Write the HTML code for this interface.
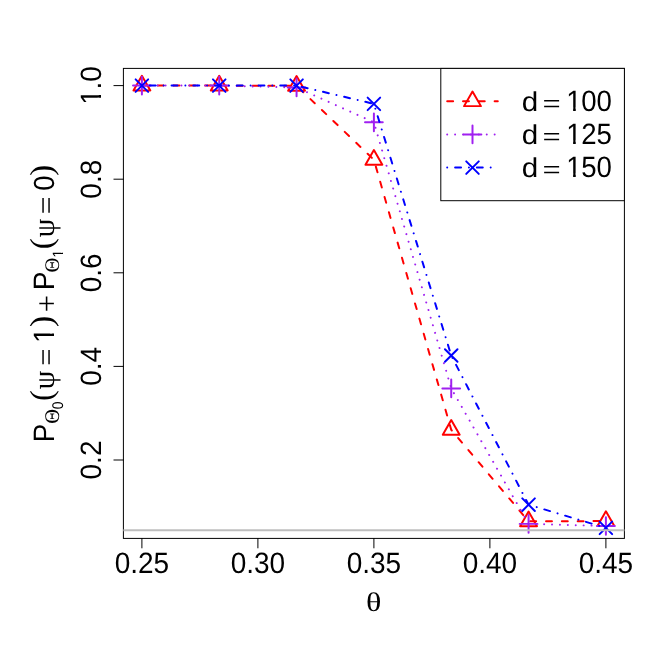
<!DOCTYPE html>
<html><head><meta charset="utf-8"><title>plot</title>
<style>
html,body{margin:0;padding:0;background:#fff;}
svg{display:block;will-change:transform;}
text{font-family:"Liberation Sans",sans-serif;fill:#000;text-rendering:geometricPrecision;}
.sy{font-family:"Liberation Serif",serif;}
</style></head><body>
<svg width="664" height="664" viewBox="0 0 664 664">
<defs><clipPath id="c1"><path d="M0 -24H16V-3.3H9.62V2H6.93V-3.3H0Z"/></clipPath><clipPath id="cpsi"><rect x="-20" y="-14.4" width="340" height="40"/></clipPath></defs>
<rect width="664" height="664" fill="#fff"/>
<g fill="none" stroke-width="1.98" stroke-linecap="round" stroke-linejoin="round">
<g stroke="#ff0000">
<polyline points="141.90,85.60 219.23,85.60 296.57,85.83 373.90,159.78 451.23,429.81 528.57,521.31 605.90,521.07" stroke-dasharray="5.93 9.88"/>
<polygon points="141.90,75.85 150.34,90.48 133.46,90.48"/>
<polygon points="219.23,75.85 227.68,90.48 210.79,90.48"/>
<polygon points="296.57,76.08 305.01,90.71 288.12,90.71"/>
<polygon points="373.90,150.03 382.34,164.65 365.46,164.65"/>
<polygon points="451.23,420.06 459.68,434.69 442.79,434.69"/>
<polygon points="528.57,511.56 537.01,526.18 520.12,526.18"/>
<polygon points="605.90,511.32 614.34,525.95 597.46,525.95"/>
</g>
<g stroke="#a020f0">
<polyline points="141.90,85.60 219.23,85.60 296.57,87.47 373.90,122.29 451.23,388.40 528.57,523.88 605.90,525.99" stroke-dasharray="0.01 7.90"/>
<path d="M133.03 85.60H150.77M141.90 76.73V94.47"/>
<path d="M210.37 85.60H228.10M219.23 76.73V94.47"/>
<path d="M287.70 87.47H305.43M296.57 78.60V96.34"/>
<path d="M365.03 122.29H382.77M373.90 113.42V131.16"/>
<path d="M442.37 388.40H460.10M451.23 379.53V397.26"/>
<path d="M519.70 523.88H537.43M528.57 515.01V532.75"/>
<path d="M597.03 525.99H614.77M605.90 517.12V534.86"/>
</g>
<g stroke="#0000ff">
<polyline points="141.90,85.60 219.23,85.60 296.57,85.60 373.90,103.85 451.23,355.50 528.57,504.69 605.90,527.86" stroke-dasharray="0.01 7.90 5.93 7.90"/>
<path d="M135.63 79.33L148.17 91.87M135.63 91.87L148.17 79.33"/>
<path d="M212.96 79.33L225.50 91.87M212.96 91.87L225.50 79.33"/>
<path d="M290.30 79.33L302.84 91.87M290.30 91.87L302.84 79.33"/>
<path d="M367.63 97.58L380.17 110.12M367.63 110.12L380.17 97.58"/>
<path d="M444.96 349.23L457.50 361.77M444.96 361.77L457.50 349.23"/>
<path d="M522.30 498.42L534.84 510.96M522.30 510.96L534.84 498.42"/>
<path d="M599.63 521.59L612.17 534.13M599.63 534.13L612.17 521.59"/>
</g>
</g>
<g fill="none" stroke="#000" stroke-width="0.99" stroke-linecap="round">
<rect x="123.4" y="68.4" width="501.0" height="470.0"/>
<line x1="141.90" y1="538.4" x2="141.90" y2="547.89"/>
<line x1="257.90" y1="538.4" x2="257.90" y2="547.89"/>
<line x1="373.90" y1="538.4" x2="373.90" y2="547.89"/>
<line x1="489.90" y1="538.4" x2="489.90" y2="547.89"/>
<line x1="605.90" y1="538.4" x2="605.90" y2="547.89"/>
<line x1="123.4" y1="460.00" x2="113.91" y2="460.00"/>
<line x1="123.4" y1="366.40" x2="113.91" y2="366.40"/>
<line x1="123.4" y1="272.80" x2="113.91" y2="272.80"/>
<line x1="123.4" y1="179.20" x2="113.91" y2="179.20"/>
<line x1="123.4" y1="85.60" x2="113.91" y2="85.60"/>
</g>
<line x1="123.4" y1="530.35" x2="624.4" y2="530.35" stroke="#bebebe" stroke-width="1.98"/>
<g transform="translate(141.90 573.20) scale(1.0000 1.0500)"><text x="-27.25" font-size="28.00">0.25</text></g>
<g transform="translate(257.90 573.20) scale(1.0000 1.0500)"><text x="-27.25" font-size="28.00">0.30</text></g>
<g transform="translate(373.90 573.20) scale(1.0000 1.0500)"><text x="-27.25" font-size="28.00">0.35</text></g>
<g transform="translate(489.90 573.20) scale(1.0000 1.0500)"><text x="-27.25" font-size="28.00">0.40</text></g>
<g transform="translate(605.90 573.20) scale(1.0000 1.0500)"><text x="-27.25" font-size="28.00">0.45</text></g>
<g transform="translate(101.1 460.00) rotate(-90)"><g transform="translate(0.00 0.00) scale(1.0000 1.0500)"><text x="-19.46" font-size="28.00">0.2</text></g></g>
<g transform="translate(101.1 366.40) rotate(-90)"><g transform="translate(0.00 0.00) scale(1.0000 1.0500)"><text x="-19.46" font-size="28.00">0.4</text></g></g>
<g transform="translate(101.1 272.80) rotate(-90)"><g transform="translate(0.00 0.00) scale(1.0000 1.0500)"><text x="-19.46" font-size="28.00">0.6</text></g></g>
<g transform="translate(101.1 179.20) rotate(-90)"><g transform="translate(0.00 0.00) scale(1.0000 1.0500)"><text x="-19.46" font-size="28.00">0.8</text></g></g>
<g transform="translate(101.1 85.60) rotate(-90)"><g transform="translate(0.00 0.00) scale(1.0000 1.0500)"><g transform="translate(-19.07 0) scale(1.0000)"><text font-size="28" clip-path="url(#c1)">1</text></g><text x="-3.89" font-size="28.00">.0</text></g></g>
<text class="sy" font-size="28.00" transform="translate(366.00 610.74) scale(1.1457 0.9571)">θ</text>
<g transform="translate(53.7 440) rotate(-90)">
<text font-size="28.00" transform="translate(-2.18 0.00) scale(0.9931 1.0538)">P</text>
<text class="sy" font-size="19.60" transform="translate(16.16 5.00) scale(1.0441 1.0631)">Θ</text>
<text font-size="14.00" transform="translate(30.76 9.15) scale(0.9862 1.1098)">0</text>
<text class="sy" font-size="28.00" transform="translate(38.88 -1.31) scale(1.1542 1.1422)">(</text>
<g clip-path="url(#cpsi)"><text class="sy" font-size="28.00" transform="translate(50.50 -0.13) scale(1.0772 1.0963)">ψ</text></g>
<text class="sy" font-size="28.00" transform="translate(74.27 2.61) scale(1.0975 1.0714)">=</text>
<g transform="translate(96.60 0.00) scale(1.0000 1.0500)"><g transform="translate(0.39 0) scale(1.0000)"><text font-size="28" clip-path="url(#c1)">1</text></g></g>
<text class="sy" font-size="28.00" transform="translate(113.11 -1.31) scale(1.2098 1.1422)">)</text>
<text class="sy" font-size="28.00" transform="translate(127.87 2.91) scale(1.0975 1.1194)">+</text>
<text font-size="28.00" transform="translate(149.69 0.00) scale(1.0066 1.0538)">P</text>
<text class="sy" font-size="19.60" transform="translate(167.45 5.00) scale(1.0521 1.0631)">Θ</text>
<g transform="translate(182.30 9.10) scale(1.0000 1.0600)"><g transform="translate(0.20 0) scale(0.5000)"><text font-size="28" clip-path="url(#c1)">1</text></g></g>
<text class="sy" font-size="28.00" transform="translate(190.75 -1.31) scale(1.1820 1.1422)">(</text>
<g clip-path="url(#cpsi)"><text class="sy" font-size="28.00" transform="translate(202.60 -0.13) scale(1.0772 1.0963)">ψ</text></g>
<text class="sy" font-size="28.00" transform="translate(225.73 2.61) scale(1.1282 1.0714)">=</text>
<text font-size="28.00" transform="translate(249.13 0.22) scale(0.9787 1.0391)">0</text>
<text class="sy" font-size="28.00" transform="translate(264.15 -1.31) scale(1.1681 1.1422)">)</text>
</g>
<rect x="440.8" y="68.4" width="183.6" height="132.3" fill="#fff" stroke="#000" stroke-width="0.99"/>
<g fill="none" stroke-width="1.98" stroke-linecap="round" stroke-linejoin="round">
<g stroke="#ff0000"><line x1="447.2" y1="101.2" x2="497.8" y2="101.2" stroke-dasharray="5.93 9.88"/><polygon points="472.50,91.50 480.94,106.13 464.06,106.13"/></g>
<g stroke="#a020f0"><line x1="447.2" y1="134.4" x2="497.8" y2="134.4" stroke-dasharray="0.01 7.90"/><path d="M463.63 134.45H481.37M472.50 125.58V143.32"/></g>
<g stroke="#0000ff"><line x1="447.2" y1="167.6" x2="497.8" y2="167.6" stroke-dasharray="0.01 7.90 5.93 7.90"/><path d="M466.23 161.33L478.77 173.87M466.23 173.87L478.77 161.33"/></g>
</g>
<text font-size="28.00" transform="translate(521.76 110.73) scale(1.0562 0.9726)">d</text>
<text class="sy" font-size="28.00" transform="translate(542.39 113.08) scale(1.1513 1.0143)">=</text>
<g transform="translate(565.90 110.60) scale(0.9850 1.0500)"><g transform="translate(0.39 0) scale(1.0000)"><text font-size="28" clip-path="url(#c1)">1</text></g><text x="15.57" font-size="28.00">00</text></g>
<text font-size="28.00" transform="translate(521.76 143.83) scale(1.0562 0.9726)">d</text>
<text class="sy" font-size="28.00" transform="translate(542.39 146.18) scale(1.1513 1.0143)">=</text>
<g transform="translate(565.90 143.70) scale(0.9850 1.0500)"><g transform="translate(0.39 0) scale(1.0000)"><text font-size="28" clip-path="url(#c1)">1</text></g><text x="15.57" font-size="28.00">25</text></g>
<text font-size="28.00" transform="translate(521.76 176.93) scale(1.0562 0.9726)">d</text>
<text class="sy" font-size="28.00" transform="translate(542.39 179.28) scale(1.1513 1.0143)">=</text>
<g transform="translate(565.90 176.80) scale(0.9850 1.0500)"><g transform="translate(0.39 0) scale(1.0000)"><text font-size="28" clip-path="url(#c1)">1</text></g><text x="15.57" font-size="28.00">50</text></g>
</svg></body></html>
